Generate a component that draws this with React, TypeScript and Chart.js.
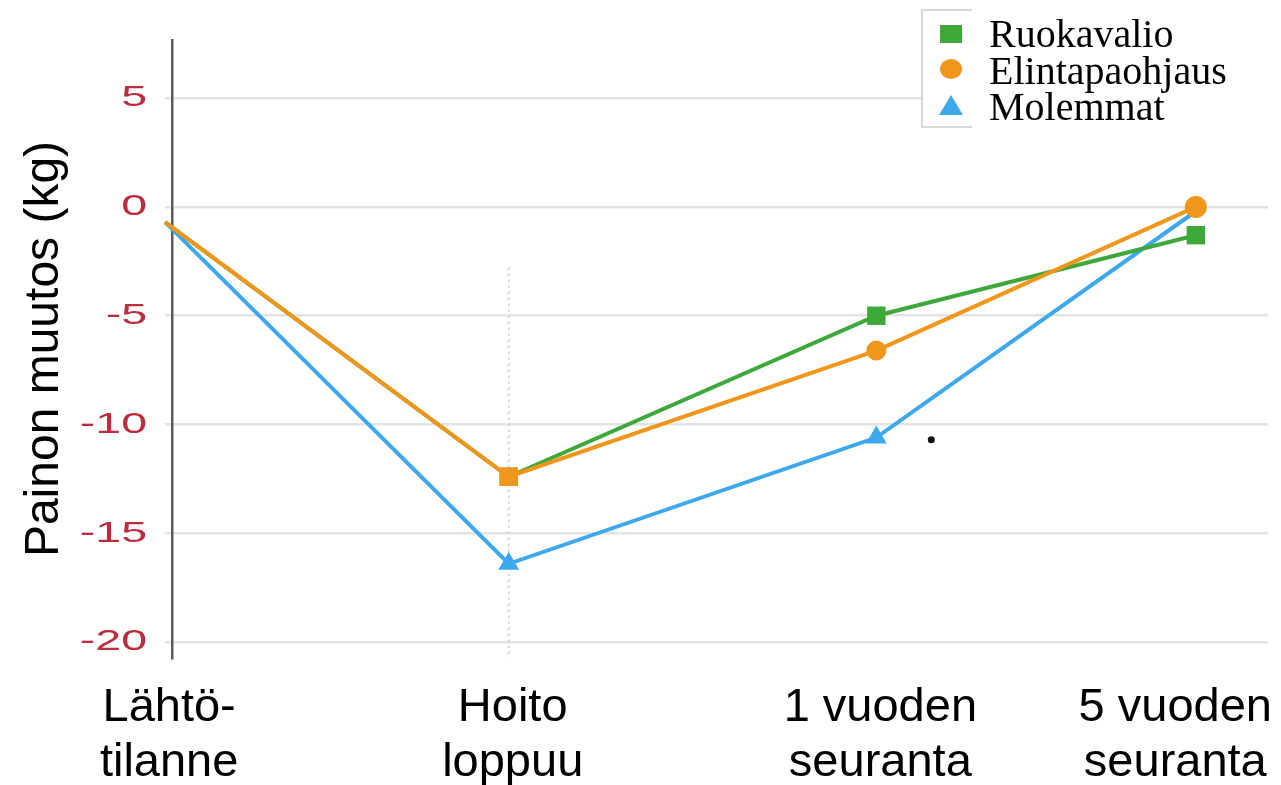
import { useEffect, useRef } from "react";
import { Chart, registerables, Plugin } from "chart.js";

Chart.register(...registerables);

// x positions of the measurement points (not evenly spaced in the original)
const timeline = [0, 1, 2.07, 3];
const stageLabels = [
  ["Lähtö-", "tilanne"],
  ["Hoito", "loppuu"],
  ["1 vuoden", "seuranta"],
  ["5 vuoden", "seuranta"],
];
const seriesNames = ["Ruokavalio", "Elintapaohjaus", "Molemmat"];
const ruokavalio = [-0.7, -12.4, -5.0, -1.3];
const elintapaohjaus = [-0.7, -12.4, -6.6, 0.0];
const molemmat = [-0.7, -16.4, -10.6, -0.2];
const yTicks = [5, 0, -5, -10, -15, -20];
const strayDot = [{ x: 2.23, y: -10.7 }];
const guideTop = -2.8;

const GREEN = "#3ea83a";
const ORANGE = "#f0961c";
const BLUE = "#3ea8ec";

const toPoints = (vals: number[]) => timeline.map((x, i) => ({ x, y: vals[i] }));

const overlay: Plugin<"line"> = {
  id: "overlay",
  beforeDatasetsDraw(chart) {
    const { ctx, chartArea } = chart;
    const x = chart.scales.x;
    const y = chart.scales.y;
    const gx = x.getPixelForValue(timeline[1]);
    ctx.save();
    ctx.strokeStyle = "#cfcfcf";
    ctx.lineWidth = 2;
    ctx.setLineDash([2, 4]);
    ctx.beginPath();
    ctx.moveTo(gx, y.getPixelForValue(guideTop));
    ctx.lineTo(gx, chartArea.bottom);
    ctx.stroke();
    ctx.restore();
  },
  afterDraw(chart) {
    const { ctx, width } = chart;
    const x = chart.scales.x;
    const y = chart.scales.y;
    ctx.save();

    // y tick labels (wide, reddish)
    ctx.fillStyle = "#bb2c3c";
    ctx.font = "30px 'Liberation Sans', Arial, sans-serif";
    ctx.textAlign = "right";
    ctx.textBaseline = "middle";
    y.ticks.forEach((t) => {
      const py = y.getPixelForValue(t.value);
      ctx.save();
      ctx.translate(147, py);
      ctx.scale(1.55, 1);
      ctx.fillText(String(t.value), 0, 0);
      ctx.restore();
    });

    // x category labels, two lines each
    ctx.fillStyle = "#000";
    ctx.font = "47px 'Liberation Sans', Arial, sans-serif";
    ctx.textAlign = "center";
    ctx.textBaseline = "alphabetic";
    stageLabels.forEach((lines, i) => {
      const w = Math.max(...lines.map((l) => ctx.measureText(l).width));
      let cx = x.getPixelForValue(timeline[i]) + 4;
      cx = Math.min(cx, width - 9 - w / 2);
      lines.forEach((l, j) => ctx.fillText(l, cx, 721 + j * 55));
    });

    // legend
    ctx.fillStyle = "#fff";
    ctx.strokeStyle = "#cccccc";
    ctx.lineWidth = 1.5;
    ctx.fillRect(922, 10, 400, 117);
    ctx.strokeRect(922, 10, 400, 117);
    ctx.fillRect(972, 0, 320, 135);

    const mx = 951;
    ctx.fillStyle = GREEN;
    ctx.fillRect(mx - 11, 34 - 9, 22, 18);
    ctx.fillStyle = ORANGE;
    ctx.beginPath();
    ctx.ellipse(mx, 69, 11, 10, 0, 0, Math.PI * 2);
    ctx.fill();
    ctx.fillStyle = BLUE;
    ctx.beginPath();
    ctx.moveTo(mx, 95);
    ctx.lineTo(mx + 12, 115);
    ctx.lineTo(mx - 12, 115);
    ctx.closePath();
    ctx.fill();

    ctx.fillStyle = "#000";
    ctx.font = "40px 'Liberation Serif', 'Times New Roman', serif";
    ctx.textAlign = "left";
    [47, 84, 120].forEach((by, i) => ctx.fillText(seriesNames[i], 989, by));

    ctx.restore();
  },
};

export default function App() {
  const canvasRef = useRef<HTMLCanvasElement>(null);
  const chartRef = useRef<Chart | null>(null);

  useEffect(() => {
    document.body.style.margin = "0";
    if (!canvasRef.current) return;
    if (chartRef.current) chartRef.current.destroy();

    chartRef.current = new Chart(canvasRef.current, {
      type: "line",
      data: {
        datasets: [
          {
            label: seriesNames[0],
            data: toPoints(ruokavalio),
            borderColor: GREEN,
            backgroundColor: GREEN,
            borderWidth: 4,
            pointStyle: "rect",
            pointRadius: [0, 13, 13, 13],
            pointBorderWidth: 0,
            clip: false,
            order: 1,
          },
          {
            label: seriesNames[1],
            data: toPoints(elintapaohjaus),
            borderColor: ORANGE,
            backgroundColor: ORANGE,
            borderWidth: 4,
            pointStyle: ["circle", "rect", "circle", "circle"],
            pointRadius: [0, 13, 10, 11],
            pointBorderWidth: 0,
            clip: false,
            order: 0,
          },
          {
            label: seriesNames[2],
            data: toPoints(molemmat),
            borderColor: BLUE,
            backgroundColor: BLUE,
            borderWidth: 4,
            pointStyle: "triangle",
            pointRadius: [0, 12, 12, 0],
            pointBorderWidth: 0,
            clip: false,
            order: 2,
          },
          {
            type: "scatter",
            label: "",
            data: strayDot,
            backgroundColor: "#111",
            borderWidth: 0,
            pointRadius: 3.5,
            clip: false,
            order: 3,
          } as any,
        ],
      },
      options: {
        responsive: false,
        animation: false,
        layout: { padding: { top: 40, right: 11, left: 0, bottom: 0 } },
        plugins: {
          legend: { display: false },
          tooltip: { enabled: false },
        },
        scales: {
          x: {
            type: "linear",
            min: 0.02,
            max: 3.21,
            grid: { display: false },
            border: { display: false },
            ticks: { display: false },
            afterFit: (s) => {
              s.height = 127;
            },
          },
          y: {
            type: "linear",
            min: -20.73,
            max: 7.67,
            afterBuildTicks: (s) => {
              s.ticks = yTicks.map((value) => ({ value }));
            },
            afterFit: (s) => {
              s.width = 172;
            },
            grid: { color: "#e3e3e3", lineWidth: 2.5, tickLength: 7 },
            border: { display: true, color: "#5a5a5a", width: 2.5 },
            ticks: { display: false },
            title: {
              display: true,
              text: "Painon muutos (kg)",
              color: "#000",
              font: { size: 48, family: "'Liberation Sans', Arial, sans-serif" },
              padding: { top: 16, bottom: 0 },
            },
          },
        },
      },
      plugins: [overlay],
    });

    return () => {
      if (chartRef.current) {
        chartRef.current.destroy();
        chartRef.current = null;
      }
    };
  }, []);

  return (
    <div style={{ width: 1281, height: 785 }}>
      <canvas ref={canvasRef} width={1281} height={785} />
    </div>
  );
}
